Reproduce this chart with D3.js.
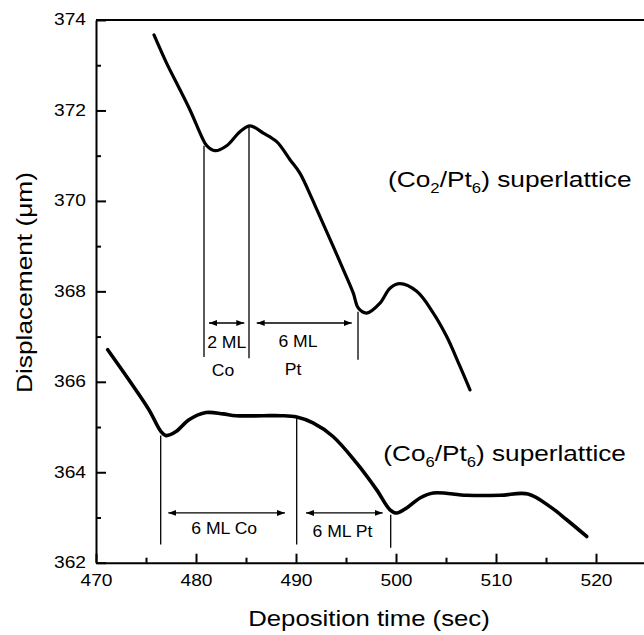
<!DOCTYPE html>
<html><head><meta charset="utf-8">
<script src="https://cdn.jsdelivr.net/npm/d3@7"></script>
<style>
body{margin:0;background:#fff}
svg{display:block}
text{font-family:"Liberation Sans",Arial,Helvetica,sans-serif;fill:#000}
</style>
</head><body><svg id="c" width="644" height="635"></svg>
<script>
// ---- data ----
const topTime = [475.8,477.07,478.07,479.4,480.57,481.07,481.9,483.07,484.4,485.4,486.73,488.07,489.4,490.4,491.6,492.1,493.73,494.73,495.73,496.23,497.07,498.4,499.4,500.4,502.07,503.73,505.07,506.4,507.4];
const topDisp = [373.67,373.04,372.60,372.01,371.42,371.22,371.11,371.22,371.53,371.66,371.50,371.31,370.91,370.61,370.05,369.80,368.99,368.48,367.96,367.63,367.52,367.74,368.07,368.17,368.00,367.52,367.00,366.34,365.82];
const botTime = [471.17,473.3,475.3,476.5,477.0,478.0,479.3,481.0,482.7,484.0,486.7,488.5,490.07,491.7,493.7,496.07,498.07,499.4,500.07,501.07,502.4,503.73,507.07,510.4,513.2,515.4,517.07,519.07];
const botDisp = [366.71,366.04,365.38,364.90,364.81,364.90,365.16,365.32,365.29,365.25,365.25,365.25,365.22,365.09,364.79,364.20,363.61,363.17,363.10,363.21,363.43,363.54,363.49,363.49,363.52,363.24,362.95,362.58];

const xMajorTicks = [470,480,490,500,510,520];
const xMinorTicks = [475,485,495,505,515];
const yMajorTicks = [362,364,366,368,370,372,374];
const yMinorTicks = [363,365,367,369,371,373];

const markerTime   = [480.8,485.3,496.2,476.47,490.07,499.47];
const markerTop    = [371.22,371.64,367.55,364.81,365.20,363.06];
const markerBottom = [366.55,366.52,366.49,362.40,362.40,362.33];

const arrowFrom = [481.3,486.07,477.23,491.0];
const arrowTo   = [484.83,495.57,488.9,498.67];
const arrowAt   = [367.30,367.30,363.10,363.10];

const labelText = ["2 ML","Co","6 ML","Pt","6 ML Co","6 ML Pt"];
const labelTime = [483.07,482.7,490.2,489.7,482.82,494.65];
const labelDisp = [366.75,366.13,366.78,366.15,362.64,362.57];

const seriesName = [["(Co","2","/Pt","6",") superlattice"],["(Co","6","/Pt","6",") superlattice"]];
const seriesNameTime = [499.2,498.73];
const seriesNameDisp = [370.31,364.24];

const xTitle = "Deposition time (sec)";
const yTitle = "Displacement (\u03bcm)";

// ---- layout ----
const svg = d3.select("#c");
const x = d3.scaleLinear().domain([470,525]).range([96,646]);
const y = d3.scaleLinear().domain([362,374]).range([562.7,20]);
const TS = 1.2; // horizontal stretch of tick labels

svg.append("defs").append("marker")
  .attr("id","ah").attr("viewBox","0 0 8 6").attr("refX",8).attr("refY",3)
  .attr("markerWidth",8).attr("markerHeight",6).attr("markerUnits","userSpaceOnUse")
  .attr("orient","auto-start-reverse")
  .append("path").attr("d","M0,0L8,3L0,6Z").attr("fill","#000");

// frame
svg.append("line").attr("x1",x(470)).attr("x2",x(525)).attr("y1",y(374)).attr("y2",y(374))
  .attr("stroke","#000").attr("stroke-width",2);
svg.append("line").attr("x1",x(525)).attr("x2",x(525)).attr("y1",y(374)).attr("y2",y(362))
  .attr("stroke","#000").attr("stroke-width",2);

// axes
const gx = svg.append("g").attr("transform",`translate(0,${y(362)})`)
  .call(d3.axisBottom(x).tickValues(xMajorTicks).tickSize(-9).tickSizeOuter(0).tickFormat(d3.format("d")));
const gxm = svg.append("g").attr("transform",`translate(0,${y(362)})`)
  .call(d3.axisBottom(x).tickValues(xMinorTicks).tickSize(-5).tickSizeOuter(0).tickFormat(""));
const gy = svg.append("g").attr("transform",`translate(${x(470)},0)`)
  .call(d3.axisLeft(y).tickValues(yMajorTicks).tickSize(-10).tickSizeOuter(0).tickFormat(d3.format("d")));
const gym = svg.append("g").attr("transform",`translate(${x(470)},0)`)
  .call(d3.axisLeft(y).tickValues(yMinorTicks).tickSize(-5).tickSizeOuter(0).tickFormat(""));
gxm.select(".domain").remove(); gym.select(".domain").remove();
[gx,gxm,gy,gym].forEach(g=>{
  g.attr("font-family",null).attr("font-size",16);
  g.selectAll("path,line").attr("stroke","#000").attr("stroke-width",2);
});
gx.selectAll(".tick text").attr("y",0).attr("dy",0).attr("x",0)
  .attr("transform",`translate(0,23) scale(${TS},1)`);
gy.selectAll(".tick text").attr("x",0).attr("dy","0.3em")
  .attr("transform",`translate(-10,0) scale(${TS},1)`);

// curves
const lineTop = d3.line().x(d=>x(d[0])).y(d=>y(d[1])).curve(d3.curveCatmullRom.alpha(0.5));
const lineBot = d3.line().x(d=>x(d[0])).y(d=>y(d[1])).curve(d3.curveCatmullRom.alpha(0.5));
svg.append("path").datum(d3.zip(topTime,topDisp)).attr("d",lineTop)
  .attr("fill","none").attr("stroke","#000").attr("stroke-width",3.2)
  .attr("stroke-linejoin","round").attr("stroke-linecap","round");
svg.append("path").datum(d3.zip(botTime,botDisp)).attr("d",lineBot)
  .attr("fill","none").attr("stroke","#000").attr("stroke-width",3.6).attr("stroke-linejoin","round").attr("stroke-linecap","round");

// markers
svg.append("g").selectAll("line").data(markerTime).join("line")
  .attr("x1",d=>x(d)).attr("x2",d=>x(d))
  .attr("y1",(d,i)=>y(markerTop[i])).attr("y2",(d,i)=>y(markerBottom[i]))
  .attr("stroke","#000").attr("stroke-width",1.3);

// arrows
svg.append("g").selectAll("line").data(arrowFrom).join("line")
  .attr("x1",d=>x(d)).attr("x2",(d,i)=>x(arrowTo[i]))
  .attr("y1",(d,i)=>y(arrowAt[i])).attr("y2",(d,i)=>y(arrowAt[i]))
  .attr("stroke","#000").attr("stroke-width",1.3)
  .attr("marker-start","url(#ah)").attr("marker-end","url(#ah)");

// labels
svg.append("g").selectAll("text").data(labelText).join("text")
  .attr("transform",(d,i)=>`translate(${x(labelTime[i])},${y(labelDisp[i])}) scale(1.1,1)`)
  .attr("text-anchor","middle").attr("font-size",16).text(d=>d);

// series names
function fitText(g, target){
  const w = g.select("text").node().getComputedTextLength();
  return target / w;
}
const nameWidth = [243.7,242.7];
seriesName.forEach((parts,i)=>{
  const g = svg.append("g");
  const t = g.append("text").attr("font-size",22);
  parts.forEach((p,j)=>{
    const ts = t.append("tspan").text(p);
    if(j===1||j===3){ ts.attr("font-size",14).attr("dy",6); }
    else if(j===2||j===4){ ts.attr("dy",-6); }
  });
  const s = fitText(g, nameWidth[i]);
  g.attr("transform",`translate(${x(seriesNameTime[i])},${y(seriesNameDisp[i])}) scale(${s},1)`);
});

// axis titles
const gxt = svg.append("g");
gxt.append("text").attr("font-size",22).attr("text-anchor","middle").text(xTitle);
gxt.attr("transform",`translate(369,626) scale(${fitText(gxt,241.7)},1)`);
const gyt = svg.append("g");
gyt.append("text").attr("font-size",22).attr("text-anchor","middle").text(yTitle);
gyt.attr("transform",`translate(32,282.5) rotate(-90) scale(${fitText(gyt,221)},1)`);
</script>
</body></html>
